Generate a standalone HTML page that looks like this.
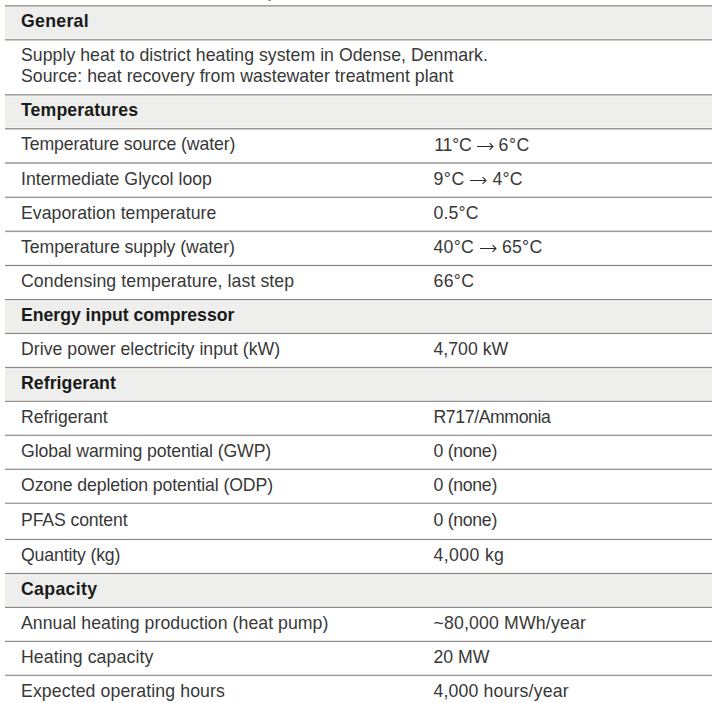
<!DOCTYPE html>
<html><head><meta charset="utf-8"><style>
html,body{margin:0;padding:0;background:#fff;}
body{width:717px;height:703px;overflow:hidden;position:relative;font-family:"Liberation Sans",sans-serif;color:#383838;}
.bg{position:absolute;left:5px;width:707px;background:#eeeeec;}
.l{position:absolute;left:5px;width:707px;height:1px;}
.t{position:absolute;height:32px;line-height:32px;font-size:17.70px;white-space:nowrap;}
.b{font-weight:bold;color:#1a1a1a;}
.ar{position:absolute;}
</style></head><body>

<div class="bg" style="top:7px;height:32px"></div>
<div class="bg" style="top:96px;height:32px"></div>
<div class="bg" style="top:300px;height:33px"></div>
<div class="bg" style="top:368px;height:33px"></div>
<div class="bg" style="top:574px;height:33px"></div>
<div class="l" style="top:5px;background:#a7a29e"></div>
<div class="l" style="top:6px;background:#c0bdba"></div>
<div class="l" style="top:7px;background:#f0f0ee"></div>
<div class="l" style="top:38px;background:#f3f3f2"></div>
<div class="l" style="top:39px;background:#a39f9b"></div>
<div class="l" style="top:40px;background:#cdcac8"></div>
<div class="l" style="top:94px;background:#a09c98"></div>
<div class="l" style="top:95px;background:#c8c6c3"></div>
<div class="l" style="top:96px;background:#f1f1ef"></div>
<div class="l" style="top:127px;background:#f3f3f2"></div>
<div class="l" style="top:128px;background:#9a9692"></div>
<div class="l" style="top:129px;background:#cfcdcb"></div>
<div class="l" style="top:162px;background:#b4b0ad"></div>
<div class="l" style="top:163px;background:#b6b2af"></div>
<div class="l" style="top:196px;background:#d8d5d3"></div>
<div class="l" style="top:197px;background:#a39e9b"></div>
<div class="l" style="top:198px;background:#f5f5f5"></div>
<div class="l" style="top:230px;background:#d8d5d3"></div>
<div class="l" style="top:231px;background:#a09c98"></div>
<div class="l" style="top:232px;background:#f7f7f7"></div>
<div class="l" style="top:264px;background:#f2f0f0"></div>
<div class="l" style="top:265px;background:#877f7c"></div>
<div class="l" style="top:266px;background:#f8f8f8"></div>
<div class="l" style="top:299px;background:#8a8380"></div>
<div class="l" style="top:300px;background:#e6e5e3"></div>
<div class="l" style="top:301px;background:#f3f3f1"></div>
<div class="l" style="top:331px;background:#f0f1ef"></div>
<div class="l" style="top:332px;background:#e2e2e0"></div>
<div class="l" style="top:333px;background:#8d8583"></div>
<div class="l" style="top:366px;background:#f0efee"></div>
<div class="l" style="top:367px;background:#918a87"></div>
<div class="l" style="top:368px;background:#e6e6e4"></div>
<div class="l" style="top:369px;background:#f4f4f2"></div>
<div class="l" style="top:399px;background:#f0f0ef"></div>
<div class="l" style="top:400px;background:#dcdcda"></div>
<div class="l" style="top:401px;background:#958e8b"></div>
<div class="l" style="top:434px;background:#dedad9"></div>
<div class="l" style="top:435px;background:#9d9794"></div>
<div class="l" style="top:436px;background:#f8f8f8"></div>
<div class="l" style="top:468px;background:#dad7d5"></div>
<div class="l" style="top:469px;background:#a09b98"></div>
<div class="l" style="top:470px;background:#f8f8f8"></div>
<div class="l" style="top:502px;background:#d8d5d3"></div>
<div class="l" style="top:503px;background:#a49f9c"></div>
<div class="l" style="top:538px;background:#f3f3f3"></div>
<div class="l" style="top:539px;background:#8a8380"></div>
<div class="l" style="top:540px;background:#fafafa"></div>
<div class="l" style="top:572px;background:#f4f3f3"></div>
<div class="l" style="top:573px;background:#8c8582"></div>
<div class="l" style="top:574px;background:#e8e8e6"></div>
<div class="l" style="top:575px;background:#f4f4f2"></div>
<div class="l" style="top:605px;background:#f0f0ee"></div>
<div class="l" style="top:606px;background:#dededc"></div>
<div class="l" style="top:607px;background:#8e8a85"></div>
<div class="l" style="top:640px;background:#e8e6e5"></div>
<div class="l" style="top:641px;background:#958f8c"></div>
<div class="l" style="top:642px;background:#fafafa"></div>
<div class="l" style="top:674px;background:#e3e0df"></div>
<div class="l" style="top:675px;background:#9a9592"></div>
<div class="l" style="top:676px;background:#fafafa"></div>
<div style="position:absolute;left:268px;top:0;width:1px;height:1px;background:#c9a59a"></div><div style="position:absolute;left:269px;top:0;width:1px;height:1px;background:#7d7680"></div><div style="position:absolute;left:270px;top:0;width:1px;height:1px;background:#8c9cc4"></div>
<div class="t b" style="top:5px;left:21px;letter-spacing:0.3px">General</div>
<div class="t" style="top:39px;left:21px;letter-spacing:0.032px">Supply heat to district heating system in Odense, Denmark.</div>
<div class="t" style="top:60px;left:21px;letter-spacing:0.033px">Source: heat recovery from wastewater treatment plant</div>
<div class="t b" style="top:94px;left:21px;letter-spacing:0.118px">Temperatures</div>
<div class="t" style="top:128px;left:21px;letter-spacing:-0.116px">Temperature source (water)</div>
<div class="t" style="top:163px;left:21px;letter-spacing:0.01px">Intermediate Glycol loop</div>
<div class="t" style="top:197px;left:21px;letter-spacing:0.027px">Evaporation temperature</div>
<div class="t" style="top:197px;left:433.5px;letter-spacing:0.15px">0.5°C</div>
<div class="t" style="top:231px;left:21px;letter-spacing:-0.056px">Temperature supply (water)</div>
<div class="t" style="top:265px;left:21px;letter-spacing:0.084px">Condensing temperature, last step</div>
<div class="t" style="top:265px;left:433.5px;letter-spacing:0.33px">66°C</div>
<div class="t b" style="top:299px;left:21px;letter-spacing:-0.041px">Energy input compressor</div>
<div class="t" style="top:333px;left:21px;letter-spacing:0.02px">Drive power electricity input (kW)</div>
<div class="t" style="top:333px;left:433.5px">4,700 kW</div>
<div class="t b" style="top:367px;left:21px;letter-spacing:0.05px">Refrigerant</div>
<div class="t" style="top:401px;left:21px;letter-spacing:-0.08px">Refrigerant</div>
<div class="t" style="top:401px;left:433.5px;letter-spacing:-0.41px">R717/Ammonia</div>
<div class="t" style="top:435px;left:21px;letter-spacing:-0.117px">Global warming potential (GWP)</div>
<div class="t" style="top:435px;left:433.5px;letter-spacing:-0.3px">0 (none)</div>
<div class="t" style="top:469px;left:21px;letter-spacing:-0.12px">Ozone depletion potential (ODP)</div>
<div class="t" style="top:469px;left:433.5px;letter-spacing:-0.3px">0 (none)</div>
<div class="t" style="top:504px;left:21px;letter-spacing:-0.136px">PFAS content</div>
<div class="t" style="top:504px;left:433.5px;letter-spacing:-0.3px">0 (none)</div>
<div class="t" style="top:539px;left:21px;letter-spacing:-0.15px">Quantity (kg)</div>
<div class="t" style="top:539px;left:433.5px;letter-spacing:0.37px">4,000 kg</div>
<div class="t b" style="top:573px;left:21px;letter-spacing:0.33px">Capacity</div>
<div class="t" style="top:607px;left:21px;letter-spacing:0.044px">Annual heating production (heat pump)</div>
<div class="t" style="top:607px;left:433.5px;letter-spacing:0.16px">~80,000 MWh/year</div>
<div class="t" style="top:641px;left:21px;letter-spacing:0.1px">Heating capacity</div>
<div class="t" style="top:641px;left:433.5px">20 MW</div>
<div class="t" style="top:675px;left:21px;letter-spacing:0.1px">Expected operating hours</div>
<div class="t" style="top:675px;left:433.5px;letter-spacing:0.153px">4,000 hours/year</div>
<div class="t" style="top:129px;left:434.3px;letter-spacing:-0.25px">11°C</div>
<svg class="ar" style="left:477.0px;top:142px" width="17" height="9" viewBox="0 0 17 9"><path d="M0 4.5H15.6M12.6 1.2L16 4.5L12.6 7.8" fill="none" stroke="#2a2a2a" stroke-width="1.05"/></svg>
<div class="t" style="top:129px;left:498.6px;letter-spacing:0.5px">6°C</div>
<div class="t" style="top:163px;left:433.5px;letter-spacing:0.5px">9°C</div>
<svg class="ar" style="left:469.7px;top:176px" width="17" height="9" viewBox="0 0 17 9"><path d="M0 4.5H15.6M12.6 1.2L16 4.5L12.6 7.8" fill="none" stroke="#2a2a2a" stroke-width="1.05"/></svg>
<div class="t" style="top:163px;left:492.4px;letter-spacing:0.25px">4°C</div>
<div class="t" style="top:231px;left:433.5px;letter-spacing:0.25px">40°C</div>
<svg class="ar" style="left:479.9px;top:244px" width="17" height="9" viewBox="0 0 17 9"><path d="M0 4.5H15.6M12.6 1.2L16 4.5L12.6 7.8" fill="none" stroke="#2a2a2a" stroke-width="1.05"/></svg>
<div class="t" style="top:231px;left:501.9px;letter-spacing:0.25px">65°C</div>
</body></html>
